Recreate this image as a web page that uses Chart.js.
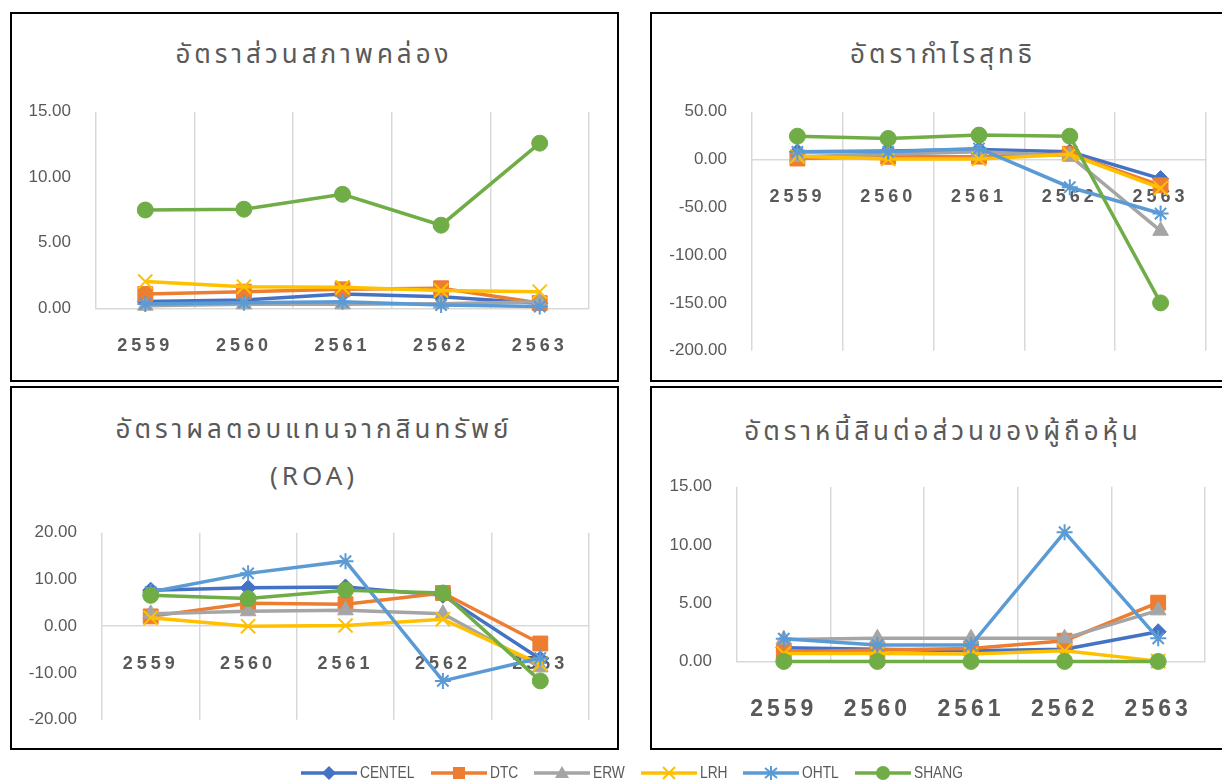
<!DOCTYPE html>
<html>
<head>
<meta charset="utf-8">
<script src="https://cdn.jsdelivr.net/npm/chart.js@4.4.1/dist/chart.umd.min.js"></script>
<style>
  body { margin: 0; background: #fff; width: 1222px; height: 781px; overflow: hidden; position: relative;
         font-family: "Liberation Sans", Arial, sans-serif; }
  .panel { position: absolute; border: 2px solid #000; box-sizing: border-box; }
  canvas { position: absolute; }
  .title { position: absolute; color: #595959; font-size: 26px; letter-spacing: 4px; white-space: nowrap;
           line-height: 1; transform: translate(-50%, -50%);
           font-family: "Noto Sans Thai", "Noto Sans Thai UI", "Loma", "Garuda", "Tlwg Typo", "Noto Sans", sans-serif; }
  #legend { position: absolute; left: 0; width: 1264px; top: 763px; height: 20px; display: flex;
            justify-content: center; align-items: center; gap: 16px; }
  .item { display: flex; align-items: center; }
  .item svg { display: block; }
  .lbl { display: inline-block; font-size: 16px; color: #595959; margin-left: 3px; line-height: 20px;
         transform: scaleX(.86); transform-origin: 0 50%; }
</style>
</head>
<body>

<div class="panel" style="left:10px;top:12px;width:609px;height:370px"></div>
<div class="panel" style="left:650px;top:12px;width:600px;height:370px"></div>
<div class="panel" style="left:10px;top:386px;width:609px;height:364px"></div>
<div class="panel" style="left:650px;top:386px;width:600px;height:364px"></div>

<div class="title" style="left:314px;top:55px">อัตราส่วนสภาพคล่อง</div>
<div class="title" style="left:943px;top:55px">อัตรากำไรสุทธิ</div>
<div class="title" style="left:314px;top:430px">อัตราผลตอบแทนจากสินทรัพย์</div>
<div class="title" style="left:314px;top:477px">(ROA)</div>
<div class="title" style="left:943px;top:432px">อัตราหนี้สินต่อส่วนของผู้ถือหุ้น</div>

<!-- c2 / c3 run a little past their frames: the y-axis label padding sets a floor on the bottom gap -->
<canvas id="c1" width="604" height="366" style="left:12px;top:14px"></canvas>
<canvas id="c2" width="580" height="380" style="left:652px;top:14px"></canvas>
<canvas id="c3" width="604" height="380" style="left:12px;top:388px"></canvas>
<canvas id="c4" width="580" height="360" style="left:652px;top:388px"></canvas>

<div id="legend"></div>

<script>
// ---- data ----
const years   = ["2559", "2560", "2561", "2562", "2563"];
const series  = ["CENTEL", "DTC", "ERW", "LRH", "OHTL", "SHANG"];
const colors  = ["#4472C4", "#ED7D31", "#A5A5A5", "#FFC000", "#5B9BD5", "#70AD47"];
const markers = ["rectRot", "rect", "triangle", "crossRot", "star", "circle"];

// rows in series order: CENTEL, DTC, ERW, LRH, OHTL, SHANG
const currentRatio = [
  [0.51, 0.64, 1.09, 0.89, 0.38],
  [1.09, 1.27, 1.45, 1.53, 0.40],
  [0.20, 0.30, 0.30, 0.35, 0.50],
  [2.04, 1.65, 1.60, 1.35, 1.27],
  [0.33, 0.43, 0.50, 0.25, 0.13],
  [7.50, 7.56, 8.70, 6.34, 12.60],
];
const netProfitMargin = [
  [8.0, 9.0, 10.5, 8.0, -20.0],
  [1.0, 2.8, 3.0, 6.0, -27.0],
  [2.8, 5.6, 8.0, 4.0, -74.6],
  [3.5, 0.5, 0.5, 5.5, -30.0],
  [8.0, 8.0, 11.5, -29.0, -56.5],
  [24.4, 22.0, 25.5, 24.4, -150.0],
];
const roa = [
  [7.7, 8.2, 8.4, 6.6, -7.0],
  [2.1, 4.9, 4.7, 7.1, -3.7],
  [2.65, 3.2, 3.4, 2.65, -8.8],
  [1.8, 0.0, 0.15, 1.5, -8.1],
  [7.3, 11.3, 13.9, -11.7, -6.8],
  [6.6, 5.9, 7.7, 7.1, -11.7],
];
const debtToEquity = [
  [1.20, 1.06, 0.94, 1.06, 2.57],
  [0.85, 1.00, 1.14, 1.80, 5.06],
  [1.90, 2.00, 2.00, 2.00, 4.40],
  [0.70, 0.70, 0.65, 0.94, 0.05],
  [1.97, 1.43, 1.43, 11.10, 2.00],
  [0.02, 0.02, 0.02, 0.02, 0.02],
];

// y axis [min, max, step]
const crAxis  = [0, 15, 5];
const npmAxis = [-200, 50, 50];
const roaAxis = [-20, 20, 10];
const deAxis  = [0, 15, 5];

// ---- styling ----
const TEXT = "#595959";
const GRID = "#D9D9D9";
const RADII = { rectRot: 8, rect: 10.5, triangle: 9, crossRot: 10, star: 8, circle: 8 };

// letter-spaced x tick labels (Excel look)
const spacedTicks = {
  id: "spacedTicks",
  beforeDraw(chart, args, opts) {
    const s = chart.scales.x;
    if (!s || s._spaced) return;
    const draw = s.drawLabels;
    s.drawLabels = function (area) {
      this.ctx.save();
      this.ctx.letterSpacing = opts.spacing || "4px";
      draw.call(this, area);
      this.ctx.restore();
    };
    s._spaced = true;
  },
};

function buildSets(rows) {
  return rows.map((data, i) => {
    const m = markers[i];
    const open = m === "crossRot" || m === "star";
    return {
      label: series[i],
      data,
      borderColor: colors[i],
      backgroundColor: colors[i],
      borderWidth: 3.5,
      pointStyle: m,
      pointRadius: RADII[m],
      pointHoverRadius: RADII[m],
      pointBorderWidth: open ? 2 : 1,
      pointBackgroundColor: colors[i],
      pointBorderColor: colors[i],
      tension: 0,
      clip: false,
      order: series.length - 1 - i,
    };
  });
}

// pad = [left, top, right, bottom] of the plot area inside the canvas
function lineChart(id, rows, axis, pad, xFont, xPad) {
  const [min, max, step] = axis;
  return new Chart(document.getElementById(id), {
    type: "line",
    data: { labels: years, datasets: buildSets(rows) },
    plugins: [spacedTicks],
    options: {
      responsive: false,
      animation: false,
      events: [],
      layout: { padding: { left: 0, top: pad[1], right: pad[2], bottom: pad[3] } },
      plugins: {
        legend: { display: false },
        tooltip: { enabled: false },
        spacedTicks: { spacing: "4px" },
      },
      scales: {
        y: {
          min, max,
          afterFit: (s) => { s.width = pad[0]; },
          ticks: {
            stepSize: step,
            padding: 25,
            color: TEXT,
            font: { family: "'Liberation Sans', Arial", size: 17 },
            callback: (v) => Number(v).toFixed(2),
          },
          grid: { display: false, drawTicks: false },
          border: { display: false },
        },
        x: {
          position: { y: 0 },
          offset: true,
          ticks: {
            padding: xPad,
            color: TEXT,
            maxRotation: 0,
            font: { family: "'Liberation Sans', Arial", size: xFont, weight: "bold" },
          },
          grid: { offset: true, color: GRID, lineWidth: 1.5, drawTicks: false },
          border: { display: true, color: GRID, width: 1.5 },
        },
      },
    },
  });
}

lineChart("c1", currentRatio,    crAxis,  [84, 97.7, 27, 71.7], 18, 27);
lineChart("c2", netProfitMargin, npmAxis, [100, 97.7, 26, 43.3], 18, 27);
lineChart("c3", roa,             roaAxis, [90, 144.7, 27, 48.3], 18, 27);
lineChart("c4", debtToEquity,    deAxis,  [85, 98.7, 27, 86.3], 23, 34.5);

// ---- shared legend ----
function icon(i) {
  const c = colors[i];
  let mk = "";
  switch (markers[i]) {
    case "rectRot":  mk = `<polygon points="28,3 35,10 28,17 21,10" fill="${c}"/>`; break;
    case "rect":     mk = `<rect x="22" y="4" width="12" height="12" fill="${c}"/>`; break;
    case "triangle": mk = `<polygon points="28,3 35,15 21,15" fill="${c}"/>`; break;
    case "crossRot": mk = `<path d="M22 4L34 16M34 4L22 16" stroke="${c}" stroke-width="2"/>`; break;
    case "star":     mk = `<path d="M28 3V17M22 5L34 15M34 5L22 15" stroke="${c}" stroke-width="2"/>`; break;
    default:         mk = `<circle cx="28" cy="10" r="7" fill="${c}"/>`;
  }
  return `<svg width="56" height="20"><line x1="0" y1="10" x2="56" y2="10" stroke="${c}" stroke-width="3.5"/>${mk}</svg>`;
}
const legend = document.getElementById("legend");
series.forEach((name, i) => {
  const it = document.createElement("div");
  it.className = "item";
  it.innerHTML = icon(i) + `<span class="lbl">${name}</span>`;
  legend.appendChild(it);
});
legend.querySelectorAll(".lbl").forEach((el) => {
  el.style.marginRight = (-0.14 * el.offsetWidth) + "px";
});
</script>
</body>
</html>
